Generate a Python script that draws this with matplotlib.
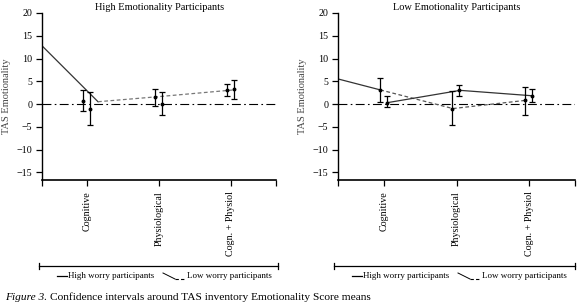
import matplotlib.pyplot as plt
from matplotlib.lines import Line2D

plt.rcParams['font.family'] = ['Liberation Serif', 'DejaVu Serif']

categories = ["Cognitive", "Physiological", "Cogn. + Physiol"]
cat_pos = [1, 2, 3]

# High Emotionality panel: means and CI bounds (two groups, slightly offset)
high_a_mean = [0.6, 1.6, 3.0]
high_a_lo = [-1.5, -0.4, 1.8]
high_a_hi = [3.0, 3.3, 4.3]
high_b_mean = [-1.0, 0.0, 3.2]
high_b_lo = [-4.7, -2.5, 1.1]
high_b_hi = [2.6, 2.6, 5.2]
high_solid_x = [0.37, 1.15]
high_solid_y = [12.8, 0.5]
high_dash_x = [1.15, 1.98, 3.04]
high_dash_y = [0.5, 1.6, 3.1]

# Low Emotionality panel
low_a_mean = [3.1, -1.0, 0.8]
low_a_lo = [0.4, -4.7, -2.4]
low_a_hi = [5.7, 2.9, 3.7]
low_b_mean = [0.3, 3.0, 1.8]
low_b_lo = [-0.7, 1.7, 0.4]
low_b_hi = [1.7, 4.1, 3.3]
low_solid1_x = [0.37, 0.95]
low_solid1_y = [5.5, 3.1]
low_dash_x = [0.95, 1.95, 2.95]
low_dash_y = [3.1, -1.0, 0.8]
low_solid2_x = [1.05, 2.05, 3.05]
low_solid2_y = [0.3, 3.0, 1.8]

W, H = 579.0, 308.0
fig = plt.figure(figsize=(5.79, 3.08), dpi=100)
ax1 = fig.add_axes([0.0725, 0.4156, 0.4045, 0.5422])
ax2 = fig.add_axes([0.584, 0.4156, 0.409, 0.5422])


def draw_ci(ax, xs, mean, lo, hi):
    yerr = [[m - l for m, l in zip(mean, lo)], [h - m for m, h in zip(mean, hi)]]
    ax.errorbar(xs, mean, yerr=yerr, fmt='o', ms=1.8, color='black',
                ecolor='black', elinewidth=0.9, capsize=2.2, capthick=0.9, zorder=4)


def style(ax, title):
    ax.set_xlim(0.37, 3.63)
    ax.set_ylim(-16.7, 20)
    ax.axhline(0, color='black', lw=0.8, ls='-.', dashes=(8, 3, 1.5, 3), zorder=1)
    for s in ['top', 'right']:
        ax.spines[s].set_visible(False)
    ax.spines['bottom'].set_linewidth(1.2)
    ax.spines['left'].set_linewidth(1.0)
    ax.set_yticks([20, 15, 10, 5, 0, -5, -10, -15])
    ax.set_yticklabels(['20', '15', '10', '5', '0', '\u22125', '\u221210', '\u221215'])
    ax.set_xticks([0.37] + cat_pos + [3.63])
    ax.set_xticklabels([''] + categories + [''], rotation=90, va='top')
    ax.tick_params(axis='both', direction='out', length=4, width=0.9,
                   labelsize=7.2, colors='black', pad=3)
    ax.tick_params(axis='x', pad=4)
    ax.set_ylabel('TAS Emotionality', fontsize=7.5, color='#444444', labelpad=4)
    # title placed in figure coords so it stays inside the image
    pos = ax.get_position()
    fig.text((pos.x0 + pos.x1) / 2, 1 - 7 / H, title, fontsize=7.5,
             ha='center', va='center')


style(ax1, 'High Emotionality Participants')
ax1.plot(high_solid_x, high_solid_y, color='#333333', lw=0.9)
ax1.plot(high_dash_x, high_dash_y, color='#777777', lw=0.9, ls=(0, (3, 2)))
draw_ci(ax1, [c - 0.06 for c in cat_pos], high_a_mean, high_a_lo, high_a_hi)
draw_ci(ax1, [c + 0.04 for c in cat_pos], high_b_mean, high_b_lo, high_b_hi)

style(ax2, 'Low Emotionality Participants')
ax2.plot(low_solid1_x, low_solid1_y, color='#333333', lw=0.9)
ax2.plot(low_dash_x, low_dash_y, color='#555555', lw=0.9, ls=(0, (3, 2)))
ax2.plot(low_solid2_x, low_solid2_y, color='#333333', lw=0.9)
draw_ci(ax2, [c - 0.06 for c in cat_pos], low_a_mean, low_a_lo, low_a_hi)
draw_ci(ax2, [c + 0.04 for c in cat_pos], low_b_mean, low_b_lo, low_b_hi)


def legend_block(x0, x1):
    # bracket line with end ticks, then legend texts (figure pixels -> fraction)
    yb = 1 - 266 / H
    fig.add_artist(Line2D([x0 / W, x1 / W], [yb, yb], color='black', lw=0.9))
    for xe in (x0, x1):
        fig.add_artist(Line2D([xe / W, xe / W], [yb - 3 / H, yb + 3 / H], color='black', lw=0.9))
    yt = 1 - 276 / H
    fig.add_artist(Line2D([(x0 + 18) / W, (x0 + 28) / W], [yt, yt], color='black', lw=0.9))
    fig.text((x0 + 29) / W, yt, 'High worry participants', fontsize=6.5, va='center')
    xd = x0 + 124
    fig.add_artist(Line2D([xd / W, (xd + 12) / W], [yt + 3 / H, yt - 3 / H], color='black', lw=0.7))
    fig.add_artist(Line2D([(xd + 12) / W, (xd + 22) / W], [yt - 3 / H, yt - 3 / H],
                          color='black', lw=0.8, ls=(0, (3, 2))))
    fig.text((xd + 24) / W, yt, 'Low worry participants', fontsize=6.5, va='center')


legend_block(39, 278)
legend_block(334, 575)

# caption: italic "Figure 3." followed by regular text
yc = 1 - 297 / H
t1 = fig.text(5 / W, yc, 'Figure 3.', fontsize=8.2, style='italic', va='center')
renderer = fig.canvas.get_renderer()
bb = t1.get_window_extent(renderer=renderer)
fig.text(bb.x1 / W + 3 / W, yc, 'Confidence intervals around TAS inventory Emotionality Score means',
         fontsize=8.2, va='center')

fig.savefig('out.png', dpi=100)
